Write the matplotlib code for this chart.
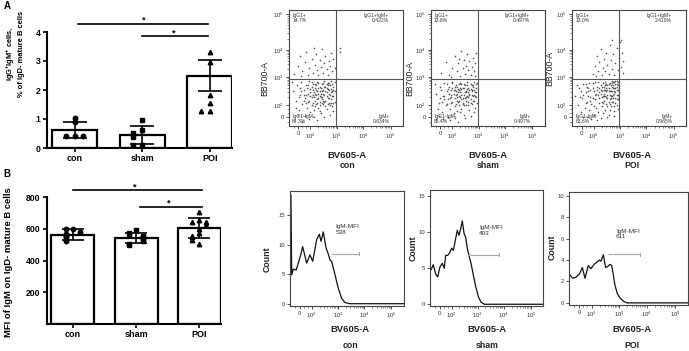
import numpy as np
import matplotlib.pyplot as plt

plt.rcParams['font.family'] = ['Liberation Sans', 'DejaVu Sans']
plt.rcParams['mathtext.fontset'] = 'custom'
plt.rcParams['mathtext.rm'] = 'Liberation Sans'
plt.rcParams['mathtext.bf'] = 'Liberation Sans:bold'
plt.rcParams['mathtext.it'] = 'Liberation Sans:italic'

groups = ['con', 'sham', 'POI']

# ---- panel A: IgG+IgM+ % bars ----
a_means = [0.62, 0.45, 2.50]
a_err = [0.29, 0.30, 0.55]
a_con = [1.05, 0.90, 0.40, 0.40, 0.40]
a_sham = [0.97, 0.62, 0.53, 0.45, 0.37, 0.10, 0.10]
a_poi = [3.31, 2.95, 1.83, 1.56, 1.28, 1.28]

# ---- panel B: IgM MFI bars ----
b_means = [562, 541, 604]
b_err = [34, 32, 64]
b_con = [598, 598, 577, 568, 552, 545, 526, 520]
b_sham = [590, 575, 565, 555, 550, 540, 530, 520, 505, 495]
b_poi = [705, 655, 645, 640, 625, 600, 575, 555, 545, 530, 505]

# ---- flow plots (display units 0-100 along each axis) ----
flow_ticks_x = ['0', '$10^2$', '$10^3$', '$10^4$', '$10^5$']
flow_ticks_y = ['0', '$10^2$', '$10^3$', '$10^4$', '$10^5$']
quad_pct = {
    'con': ['14.7%', '0.422%', '84.3%', '0.634%'],
    'sham': ['13.6%', '0.497%', '85.4%', '0.497%'],
    'POI': ['13.0%', '2.410%', '83.6%', '0.965%'],
}

con_pts = [(4,30),(6,22),(7,35),(9,14),(10,27),(11,38),(12,19),(13,31),(14,9),(14,24),
           (15,35),(16,16),(17,28),(17,21),(18,39),(19,12),(19,32),(20,25),(20,18),(21,36),
           (22,29),(22,14),(23,22),(23,33),(24,27),(24,19),(25,38),(25,30),(26,24),(26,16),
           (27,34),(27,21),(28,28),(28,11),(29,36),(29,25),(30,31),(30,19),(31,27),(31,39),
           (32,22),(32,34),(33,29),(33,15),(34,37),(34,24),(35,31),(35,20),(36,27),(36,35),
           (37,23),(37,39),(38,30),(38,17),(39,34),(39,26),(40,38),(40,21),(18,6),(25,5),
           (31,8),(36,10),(12,4),(22,8),(8,10),(28,33),(21,31),(26,37),(33,33),(29,20),
           (24,35),(30,37),(35,28),(19,26),(16,33),(23,28),(27,26),(32,30),(34,19),(37,32),
           (13,27),(10,33),(6,16),(38,36),(20,38),(15,20),(9,25),(39,13),(27,13),(3,38),
           (18,22),(19,29),(20,34),(21,20),(22,25),(23,17),(24,31),(25,23),(26,33),(27,18),
           (28,25),(29,30),(30,22),(31,34),(32,17),(33,26),(34,32),(35,24),(36,18),(37,29),
           (38,26),(39,20),(40,30),(21,27),(23,36),(25,20),(27,30),(29,23),(31,21),(33,36),
           (35,37),(37,20),(39,31),(17,35),(15,27),(13,22),(11,30),(26,28),(30,28),(34,35),
           (5,45),(8,52),(10,60),(12,47),(14,55),(15,64),(17,44),(18,50),(20,58),(21,46),
           (23,53),(24,62),(25,48),(26,44),(27,57),(28,51),(29,66),(30,46),(31,54),(32,60),
           (33,49),(34,44),(35,56),(36,52),(37,63),(38,47),(39,58),(22,67),(11,43),(40,50),
           (45,64),(45,67)]

sham_pts = [(5,28),(7,20),(8,34),(10,12),(11,26),(12,37),(13,18),(14,30),(15,8),(15,23),
            (16,34),(17,15),(18,27),(18,20),(19,38),(20,11),(20,31),(21,24),(21,17),(22,35),
            (23,28),(23,13),(24,21),(24,32),(25,26),(25,18),(26,37),(26,29),(27,23),(27,15),
            (28,33),(28,20),(29,27),(29,10),(30,35),(30,24),(31,30),(31,18),(32,26),(32,38),
            (33,21),(33,33),(34,28),(34,14),(35,36),(35,23),(36,30),(36,19),(37,26),(37,34),
            (38,22),(38,38),(39,29),(39,16),(40,33),(40,25),(41,37),(41,20),(17,5),(24,4),
            (30,7),(35,9),(11,6),(21,7),(7,9),(27,32),(22,30),(25,36),(32,32),(28,19),
            (23,34),(29,36),(34,27),(18,25),(15,32),(22,27),(26,25),(31,29),(33,18),(36,31),
            (12,26),(9,31),(6,15),(37,35),(19,37),(14,19),(8,24),(38,12),(26,12),(4,36),
            (17,24),(18,31),(19,21),(20,28),(21,34),(22,19),(23,25),(24,29),(25,22),(26,33),
            (27,27),(28,24),(29,18),(30,29),(31,22),(32,35),(33,25),(34,31),(35,20),(36,27),
            (37,22),(38,31),(39,26),(40,29),(16,28),(14,36),(12,23),(10,21),(25,31),(29,33),
            (33,29),(36,35),(38,27),(31,25),(27,36),(23,22),(21,31),(19,33),(35,32),(40,36),
            (9,46),(13,55),(16,44),(19,50),(21,60),(23,47),(24,54),(26,43),(27,65),(28,50),
            (29,57),(30,45),(31,52),(32,62),(33,48),(34,56),(35,44),(36,51),(37,59),(38,47),
            (39,54),(40,63),(18,42),(25,58),(39,43)]

poi_pts = [(3,26),(5,18),(6,33),(8,12),(9,24),(10,36),(11,16),(12,29),(13,8),(13,21),
           (14,33),(15,14),(16,25),(17,19),(18,37),(19,10),(19,30),(20,23),(21,16),(22,34),
           (23,27),(23,12),(24,20),(25,31),(26,25),(26,17),(27,37),(28,28),(28,22),(29,14),
           (30,33),(30,19),(31,27),(32,10),(32,36),(33,23),(33,30),(34,17),(35,26),(35,39),
           (36,21),(36,33),(37,28),(37,13),(38,36),(38,24),(39,31),(39,18),(40,27),(40,35),
           (39,39),(38,20),(37,33),(36,38),(40,15),(39,23),(38,29),(36,27),(35,34),(34,30),
           (31,35),(33,37),(29,31),(27,26),(25,35),(24,29),(21,28),(18,24),(16,31),(14,26),
           (12,20),(10,27),(7,25),(4,35),(17,6),(25,7),(31,8),(37,9),(22,5),(10,8),
           (34,24),(32,21),(30,25),(28,34),(26,30),(40,31),(39,36),(37,38),(35,21),(33,14),
           (20,38),(15,37),(8,30),(23,38),(29,38),(31,17),(27,11),(19,17),(13,34),(41,33),
           (24,24),(25,28),(26,34),(27,20),(28,31),(29,26),(30,36),(31,24),(32,30),(33,27),
           (34,35),(35,30),(36,24),(37,30),(38,33),(39,27),(40,23),(41,29),(40,38),(38,39),
           (36,35),(34,26),(32,33),(30,30),(28,26),(26,21),(24,33),(22,31),(20,27),(18,33),
           (16,22),(14,30),(12,36),(37,17),(39,34),(33,19),(31,31),(29,35),(35,37),(41,25),
           (18,45),(20,52),(22,60),(23,47),(24,55),(25,66),(26,44),(27,50),(28,58),(29,47),
           (30,63),(31,53),(32,45),(33,70),(34,57),(35,49),(36,62),(37,44),(38,54),(39,67),
           (40,48),(41,59),(42,72),(43,51),(44,63),(45,46),(43,74),(21,43),(35,74),(45,56)]

# histograms: x in display units, y = count
con_hx = [0.2, 0.8, 1.5, 2.9, 5.3, 7.3, 9.4, 11.1, 14.6, 17.5, 19.9, 23.4, 25.7, 27.2,
          29.2, 31.6, 33.6, 35.1, 36.5, 39.5, 42.4, 45.3, 48.2, 52.6, 100]
con_hc = [18.5, 18.5, 4.9, 5.9, 5.7, 6.9, 8.3, 9.7, 6.9, 8.3, 7.2, 10.9, 11.8, 10.6,
          12.2, 9.5, 8.4, 7.4, 7.2, 4.9, 2.6, 0.9, 0.2, 0.0, 0.0]
sham_hx = [0.9, 2.9, 5.0, 6.8, 8.8, 10.9, 12.6, 13.8, 15.6, 17.1, 19.1, 20.6, 22.6, 24.1,
           25.6, 27.1, 28.5, 30.0, 31.5, 32.9, 34.4, 36.2, 38.2, 40.3, 42.6, 45.0, 48.0, 100]
sham_hc = [4.8, 5.5, 4.2, 3.8, 5.2, 5.7, 5.0, 6.8, 6.8, 7.1, 7.8, 7.5, 9.1, 10.3,
           9.6, 10.5, 11.6, 9.9, 9.3, 7.8, 6.8, 5.7, 4.1, 2.5, 1.1, 0.3, 0.0, 0.0]
poi_hx = [0.8, 3.1, 5.9, 8.7, 11.2, 13.4, 16.2, 18.4, 21.0, 23.2, 25.4, 26.8, 28.8, 30.7,
          32.4, 34.4, 35.8, 37.2, 38.5, 40.5, 42.7, 45.5, 48.3, 100]
poi_hc = [2.6, 2.3, 2.4, 2.7, 3.3, 2.3, 3.5, 3.2, 3.6, 3.8, 4.0, 3.9, 4.5, 3.3,
          3.4, 3.6, 3.5, 2.6, 1.65, 0.87, 0.47, 0.16, 0.0, 0.0]
mfi = ['538', '493', '611']

# ---------------------------------------------------------------
W, H = 689, 351
fig = plt.figure(figsize=(W / 100, H / 100), dpi=100)


def px_axes(l, t, r, b):
    return fig.add_axes([l / W, 1 - b / H, (r - l) / W, (b - t) / H])


def px_text(x, y, s, **kw):
    fig.text(x / W, 1 - y / H, s, **kw)


def swarm(vals, tol, step):
    offs, placed = [], []
    for v in vals:
        n = sum(1 for p in placed if abs(p - v) < tol)
        k = (n + 1) // 2
        offs.append(0.0 if n == 0 else (k * step if n % 2 == 0 else -k * step))
        placed.append(v)
    return np.array(offs)


def bar_panel(box, means, errs, pts, xlim, width, ylim, yticks, tol, step, capsize, sig):
    ax = px_axes(*box)
    x = np.arange(3)
    ax.bar(x, means, width=width, color='white', edgecolor='black', linewidth=1.6, zorder=1)
    for i, (vals, mk) in enumerate(zip(pts, ['o', 's', '^'])):
        ax.plot(i + swarm(vals, tol, step), vals, marker=mk, ls='none', color='black',
                ms=3.2, zorder=3, clip_on=False)
    ax.errorbar(x, means, yerr=errs, fmt='none', ecolor='black', elinewidth=1.2,
                capsize=capsize, capthick=1.2, zorder=4)
    ax.set_xlim(*xlim)
    ax.set_ylim(*ylim)
    ax.set_yticks(yticks)
    ax.set_xticks(x)
    ax.set_xticklabels(groups, fontsize=6.5, fontweight='bold')
    for t in ax.get_yticklabels():
        t.set_fontweight('bold')
        t.set_fontsize(6.2)
    ax.tick_params(length=3, width=1.2, pad=1.5)
    for s in ['top', 'right']:
        ax.spines[s].set_visible(False)
    for s in ['left', 'bottom']:
        ax.spines[s].set_linewidth(1.5)
    for (x0, x1, y, xs, ys) in sig:
        ax.plot([x0, x1], [y, y], color='black', lw=1.2, clip_on=False)
        ax.text(xs, ys, '*', ha='center', va='center', fontsize=6.5, fontweight='bold',
                clip_on=False)
    return ax


# panel A
bar_panel((47, 32, 232.5, 148), a_means, a_err, [a_con, a_sham, a_poi],
          (-0.41, 2.336), 0.67, (0, 4), [0, 1, 2, 3, 4], 0.12, 0.13, 8.5,
          [(0.05, 1.98, 4.28, 1.02, 4.40), (1.0, 1.98, 3.86, 1.46, 3.98)])
px_text(15, 54, 'IgG$^{\\mathbf{+}}$IgM$^{\\mathbf{+}}$ cells,\n% of IgD- mature B cells',
        rotation=90, ha='center', va='center', fontsize=5.4, fontweight='bold',
        multialignment='center')

# panel B
bar_panel((47, 197, 221, 324), b_means, b_err, [b_con, b_sham, b_poi],
          (-0.405, 2.34), 0.68, (0, 800), [200, 400, 600, 800], 22, 0.11, 8,
          [(0.0, 2.04, 842, 0.98, 865), (1.06, 2.04, 739, 1.52, 765)])
px_text(9, 262, 'MFI of IgM on IgD- mature B cells', rotation=90, ha='center',
        va='center', fontsize=6.8, fontweight='bold')

px_text(4, 6, 'A', fontsize=7, fontweight='bold', ha='left', va='center')
px_text(3, 174, 'B', fontsize=7, fontweight='bold', ha='left', va='center')

# flow axes helpers
xpos = [8.5, 19.0, 42.0, 65.0, 89.0]
ypos = [8.0, 18.3, 42.3, 65.4, 96.3]


def log_minor(pos):
    m = []
    for a, b in zip(pos[1:-1], pos[2:]):
        for k in range(2, 10):
            m.append(a + (b - a) * np.log10(k))
    m += [pos[0] - 4, pos[0] + 3.5, pos[0] + 7]
    return m


def style_flow(ax, yticks=None, ylabels=None):
    ax.set_xlim(0, 100)
    ax.set_xticks(xpos)
    ax.set_xticklabels(flow_ticks_x, fontsize=4.2)
    ax.set_xticks(log_minor(xpos), minor=True)
    if yticks is not None:
        ax.set_yticks(yticks)
        ax.set_yticklabels(ylabels, fontsize=4.2)
    ax.tick_params(length=2.2, width=0.6, pad=1.5, colors='#333333')
    ax.tick_params(which='minor', length=1.2, width=0.4, colors='#333333')
    for s in ax.spines.values():
        s.set_linewidth(0.8)
        s.set_color('#444444')


scatter_boxes = [(288.7, 9.7, 403.3, 126.3), (430.7, 9.7, 544.7, 126.3), (572, 9.7, 686.3, 126.3)]
scatter_ylab = [(265, 78), (410, 78), (550, 68)]
scatter_xlab = [(347, 155, 166), (488, 155, 166), (632, 155, 166)]

for box, g, pts, yl, xl in zip(scatter_boxes, groups, [con_pts, sham_pts, poi_pts],
                               scatter_ylab, scatter_xlab):
    ax = px_axes(*box)
    arr = np.array(pts, dtype=float)
    ax.scatter(arr[:, 0], arr[:, 1], s=1.4, color='#555555', linewidths=0)
    ax.set_ylim(0, 100)
    style_flow(ax, ypos, flow_ticks_y)
    ax.set_yticks(log_minor(ypos), minor=True)
    ax.axvline(41.5, color='#555555', lw=0.8)
    ax.axhline(40.6, color='#555555', lw=0.8)
    p = quad_pct[g]
    qkw = dict(fontsize=3.6, color='#333333', transform=ax.transAxes, linespacing=1.0)
    ax.text(0.03, 0.97, 'IgG1+\n' + p[0], ha='left', va='top', **qkw)
    ax.text(0.87, 0.97, 'IgG1+IgM+\n' + p[1], ha='right', va='top', **qkw)
    ax.text(0.03, 0.02, 'IgG1-IgM-\n' + p[2], ha='left', va='bottom', **qkw)
    ax.text(0.88, 0.02, 'IgM+\n' + p[3], ha='right', va='bottom', **qkw)
    px_text(yl[0], yl[1], 'BB700-A', rotation=90, ha='center', va='center', fontsize=6.3,
            color='#222222')
    px_text(xl[0], xl[1], 'BV605-A', ha='center', va='center', fontsize=6.8,
            fontweight='bold', color='#222222')
    px_text(xl[0], xl[2], g, ha='center', va='center', fontsize=6.3, fontweight='bold',
            color='#222222')

hist_boxes = [(290, 190.7, 404, 306), (430, 190, 543.3, 305.7), (569, 191.7, 688.3, 305)]
hist_ylim = [(-0.39, 19.2), (-0.2, 15.9), (-0.2, 10.4)]
hist_yticks = [[0, 5, 10, 15], [0, 5, 10, 15], [0, 2, 4, 6, 8, 10]]
hist_gate = [(36.5, 60.8, 8.5, 40.0, 13.5), (33.8, 60.9, 6.9, 43.2, 11.0),
             (33.8, 59.5, 4.55, 39.4, 6.95)]
hist_ylab = [(266.7, 259), (413, 248), (552, 247)]
hist_xlab = [(350, 330, 345), (487, 330, 345), (632, 330, 345)]

for box, g, hx, hc, yl, yt, gate, m, ylab, xlab in zip(
        hist_boxes, groups, [con_hx, sham_hx, poi_hx], [con_hc, sham_hc, poi_hc],
        hist_ylim, hist_yticks, hist_gate, mfi, hist_ylab, hist_xlab):
    ax = px_axes(*box)
    ax.plot(hx, hc, color='#111111', lw=0.9)
    ax.set_ylim(*yl)
    style_flow(ax, yt, [str(v) for v in yt])
    x0, x1, gy, tx, ty = gate
    ax.plot([x0, x1], [gy, gy], color='#aaaaaa', lw=0.8)
    d = (yl[1] - yl[0]) * 0.015
    ax.plot([x1, x1], [gy - d, gy + d], color='#aaaaaa', lw=0.8)
    ax.text(tx, ty, 'IgM-MFI\n' + m, ha='left', va='top', fontsize=4.6, color='#333333',
            linespacing=1.1)
    px_text(ylab[0], ylab[1], 'Count', rotation=90, ha='center', va='center', fontsize=6.3,
            fontweight='bold', color='#222222')
    px_text(xlab[0], xlab[1], 'BV605-A', ha='center', va='center', fontsize=6.8,
            fontweight='bold', color='#222222')
    px_text(xlab[0], xlab[2], g, ha='center', va='center', fontsize=6.3, fontweight='bold',
            color='#222222')

fig.savefig('out.png', dpi=100)
